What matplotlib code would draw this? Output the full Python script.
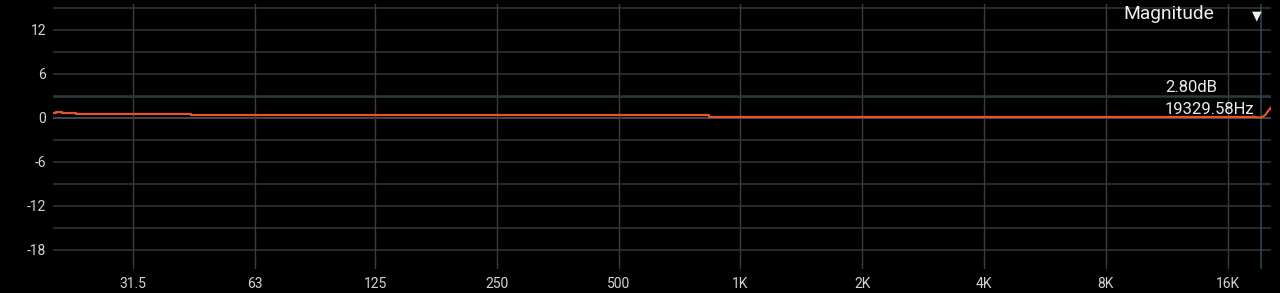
import numpy as np
import matplotlib
matplotlib.use("Agg")
import matplotlib.pyplot as plt

plt.rcParams['font.family'] = ['Roboto', 'DejaVu Sans']

# Axis ticks
freq_ticks = [31.5, 63, 125, 250, 500, 1000, 2000, 4000, 8000, 16000]
freq_labels = ['31.5', '63', '125', '250', '500', '1K', '2K', '4K', '8K', '16K']
db_ticks = [-18, -12, -6, 0, 6, 12]
db_grid = [-18, -15, -12, -9, -6, -3, 0, 3, 6, 9, 12, 15]

# Magnitude response (step part)
step_freq = [20, 20.4, 21.0, 22.8, 24.9, 43.9, 837, 18500]
step_db = [0.6, 0.75, 0.65, 0.55, 0.45, 0.32, 0.15, 0.15]
# high end roll-up
tail_freq = [18500, 19000, 19400, 19800, 20100, 20480]
tail_db = [0.15, 0.05, 0.05, 0.35, 0.85, 1.4]

# Cursor readout
cursor_freq = 19329.58
cursor_db = 2.80

bg = '#000000'
fig = plt.figure(figsize=(12.8, 2.93), dpi=100, facecolor=bg)
ax = fig.add_axes([53/1280, 24/293, 1218/1280, 265/293], facecolor=bg)

ax.set_xscale('log')
ax.set_xlim(20, 20480)
ax.set_ylim(-20.6, 15.5)

for lvl in db_grid:
    col = '#5a5a5a' if lvl == 0 else '#363636'
    ax.axhline(lvl, color=col, lw=1.1, zorder=1)
for f in freq_ticks:
    ax.axvline(f, color='#3c3c3c', lw=1.0, zorder=1)

# cursor lines
ax.axhline(cursor_db, color='#2c3f47', lw=1.1, zorder=1)
ax.axvline(cursor_freq, color='#2f4a57', lw=1.1, zorder=1)

ax.plot(step_freq, step_db, color='#e6532c', lw=1.6, drawstyle='steps-post', zorder=3)
ax.plot(tail_freq, tail_db, color='#e6532c', lw=1.6, zorder=3)

ax.set_xticks(freq_ticks)
ax.set_xticklabels(freq_labels)
ax.xaxis.set_minor_locator(matplotlib.ticker.NullLocator())
ax.set_yticks(db_ticks)
ax.set_yticklabels([str(v) for v in db_ticks])
ax.tick_params(axis='both', length=0, colors='#d4d4d4', labelsize=10)
ax.tick_params(axis='y', pad=5)
ax.tick_params(axis='x', pad=6)
for s in ax.spines.values():
    s.set_visible(False)

fig.text(1165/1280, 1 - 88/293, f'{cursor_db:.2f}dB', color='#ececec',
         fontsize=12, va='center', ha='left')
fig.text(1165/1280, 1 - 109/293, f'{cursor_freq:.2f}Hz', color='#ececec',
         fontsize=12, va='center', ha='left')

fig.text(1123/1280, 1 - 14/293, 'Magnitude', color='#f0f0f0', fontsize=13.8,
         va='center', ha='left')
fig.text(1257/1280, 1 - 16/293, '\u25BC', color='#f0f0f0', fontsize=9,
         va='center', ha='center', family=['DejaVu Sans'])

fig.savefig('out.png', dpi=100, facecolor=bg)
